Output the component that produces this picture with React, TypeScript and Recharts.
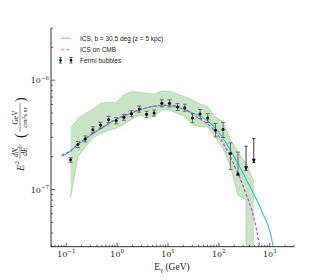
import React from 'react';
import { ComposedChart, XAxis, YAxis, Line, Area, Scatter, ErrorBar } from 'recharts';

// ---------- data ----------
const fermiE = [0.121, 0.169, 0.235, 0.333, 0.472, 0.678, 0.955, 1.355, 1.92, 2.71, 3.78, 5.33, 7.55, 10.7, 15.4, 21.4, 30.3, 42.7, 60.5, 85.8, 121, 169, 238];
const fermiFlux = [1.876e-7, 2.58e-7, 2.9e-7, 3.52e-7, 3.88e-7, 4.38e-7, 4.25e-7, 4.57e-7, 4.93e-7, 5.44e-7, 4.87e-7, 5.0e-7, 6.14e-7, 6.14e-7, 5.67e-7, 5.6e-7, 4.5e-7, 4.9e-7, 4.5e-7, 3.49e-7, 3.53e-7, 2.13e-7, 1.39e-7];
const fermiHigh = [1.957e-7, 2.75e-7, 3.09e-7, 3.75e-7, 4.13e-7, 4.67e-7, 4.53e-7, 4.87e-7, 5.25e-7, 5.8e-7, 5.19e-7, 5.33e-7, 6.61e-7, 6.61e-7, 6.11e-7, 6.03e-7, 4.95e-7, 5.39e-7, 4.95e-7, 4.02e-7, 4.11e-7, 2.67e-7, 2.2e-7];
const fermiLow = [1.772e-7, 2.42e-7, 2.72e-7, 3.3e-7, 3.64e-7, 4.11e-7, 3.99e-7, 4.29e-7, 4.63e-7, 5.1e-7, 4.57e-7, 4.69e-7, 5.7e-7, 5.7e-7, 5.27e-7, 5.2e-7, 4.09e-7, 4.45e-7, 4.09e-7, 3.03e-7, 2.99e-7, 1.52e-7, 1.345e-7];

const ulE = [342, 485];
const ulFlux = [2.49e-7, 2.93e-7];
const ulTip = [1.5e-7, 1.76e-7];

const bandE = [0.121, 0.169, 0.239, 0.338, 0.472, 0.678, 0.943, 1.354, 1.92, 2.71, 3.78, 5.33, 7.55, 10.85, 15.3, 21.4, 30.3, 42.7, 60.5, 85.8, 121, 171, 238, 342, 342, 491];
const bandHigh = [3.62e-7, 4.47e-7, 4.97e-7, 5.45e-7, 6.14e-7, 6.27e-7, 6.22e-7, 7.32e-7, 7.86e-7, 7.76e-7, 7.6e-7, 7.43e-7, 7.97e-7, 7.92e-7, 7.48e-7, 7.06e-7, 6.59e-7, 6.05e-7, 5.72e-7, 4.62e-7, 4.16e-7, 2.82e-7, 2.19e-7, 1.73e-7, 1.73e-7, 1.185e-7];
const bandLow = [8.44e-8, 1.98e-7, 2.45e-7, 2.99e-7, 3.23e-7, 3.49e-7, 3.62e-7, 3.96e-7, 4.38e-7, 4.76e-7, 4.69e-7, 4.62e-7, 5.33e-7, 5.33e-7, 4.97e-7, 4.69e-7, 3.94e-7, 3.74e-7, 3.74e-7, 2.99e-7, 2.37e-7, 1.6e-7, 8.81e-8, 8.09e-8, 3e-8, 3e-8];

const icsE = [0.0809, 0.1215, 0.169, 0.235, 0.333, 0.472, 0.678, 0.955, 1.354, 1.92, 2.71, 3.78, 5.33, 7.55, 10.7, 15.4, 21.4, 30.3, 42.7, 60.5, 85.8, 121, 169, 238, 342, 485, 738, 1000, 1161, 1253];
const icsFlux = [2.01e-7, 2.24e-7, 2.58e-7, 2.88e-7, 3.25e-7, 3.6e-7, 4.0e-7, 4.38e-7, 4.69e-7, 5.0e-7, 5.33e-7, 5.56e-7, 5.74e-7, 5.84e-7, 5.86e-7, 5.6e-7, 5.39e-7, 5.03e-7, 4.69e-7, 4.22e-7, 3.62e-7, 2.94e-7, 2.28e-7, 1.72e-7, 1.25e-7, 9.13e-8, 5.98e-8, 4.2e-8, 3.05e-8, 2.5e-8];

const cmbE = [0.0809, 0.1215, 0.169, 0.235, 0.333, 0.472, 0.678, 0.955, 1.354, 1.92, 2.71, 3.78, 5.33, 7.55, 10.7, 15.4, 21.4, 31.1, 42.7, 60.5, 85.8, 121, 169, 238, 342, 485, 636, 697];
const cmbFlux = [2.06e-7, 2.27e-7, 2.6e-7, 2.9e-7, 3.27e-7, 3.62e-7, 4.02e-7, 4.4e-7, 4.72e-7, 5.03e-7, 5.37e-7, 5.6e-7, 5.8e-7, 5.9e-7, 5.93e-7, 5.74e-7, 5.45e-7, 4.8e-7, 4.41e-7, 3.96e-7, 3.37e-7, 2.65e-7, 1.98e-7, 1.39e-7, 9.13e-8, 5.56e-8, 3.05e-8, 2.47e-8];

const xMajor = [0.1, 1, 10, 100, 1000];
const xMajorExp = ['\u22121', '0', '1', '2', '3'];
const xMinor = [0.05, 0.06, 0.07, 0.08, 0.09, 0.2, 0.3, 0.4, 0.5, 0.6, 0.7, 0.8, 0.9, 2, 3, 4, 5, 6, 7, 8, 9, 20, 30, 40, 50, 60, 70, 80, 90, 200, 300, 400, 500, 600, 700, 800, 900, 2000, 3000];
const yMajor = [1e-7, 1e-6];
const yMajorExp = ['\u22127', '\u22126'];
const yMinor = [3e-8, 4e-8, 5e-8, 6e-8, 7e-8, 8e-8, 9e-8, 2e-7, 3e-7, 4e-7, 5e-7, 6e-7, 7e-7, 8e-7, 9e-7, 2e-6, 3e-6];

const legendLabels = ['ICS, b = 30.5 deg (z = 5 kpc)', 'ICS on CMB', 'Fermi bubbles'];

// ---------- derived tables ----------
const fermiData = fermiE.map((E, i) => ({ E, y: fermiFlux[i], err: [fermiFlux[i] - fermiLow[i], fermiHigh[i] - fermiFlux[i]] }));
const ulData = ulE.map((E, i) => ({ E, y: ulTip[i], err: [0, ulFlux[i] - ulTip[i]] }));
const bandData = bandE.map((E, i) => ({ E, range: [bandLow[i], bandHigh[i]] }));
const icsData = icsE.map((E, i) => ({ E, v: icsFlux[i] }));
const cmbData = cmbE.map((E, i) => ({ E, v: cmbFlux[i] }));

const xTicks = [...xMajor, ...xMinor].sort((a, b) => a - b);
const yTicks = [...yMajor, ...yMinor].sort((a, b) => a - b);

const CYAN = '#2cc6ca';
const MAGENTA = '#c93ac9';
const INK = '#222';
const SERIF = 'DejaVu Serif';

const isMajorX = (v: number) => xMajor.findIndex((m) => Math.abs(m - v) / m < 1e-6);
const isMajorY = (v: number) => yMajor.findIndex((m) => Math.abs(m - v) / m < 1e-6);

const BottomTick = (p: any) => {
  const i = isMajorX(p.payload.value);
  return (
    <g>
      <line x1={p.x} x2={p.x} y1={p.y} y2={p.y - (i >= 0 ? 4 : 2)} stroke={INK} strokeWidth={0.7} />
      {i >= 0 && (
        <text x={p.x} y={p.y + 10} textAnchor="middle" fontFamily={SERIF} fontSize={8} fill={INK}>
          10<tspan dy={-3.5} fontSize={5.5}>{xMajorExp[i]}</tspan>
        </text>
      )}
    </g>
  );
};
const TopTick = (p: any) => {
  const i = isMajorX(p.payload.value);
  return <line x1={p.x} x2={p.x} y1={p.y} y2={p.y + (i >= 0 ? 4 : 2)} stroke={INK} strokeWidth={0.7} />;
};
const LeftTick = (p: any) => {
  const i = isMajorY(p.payload.value);
  return (
    <g>
      <line x1={p.x} x2={p.x + (i >= 0 ? 4 : 2)} y1={p.y} y2={p.y} stroke={INK} strokeWidth={0.7} />
      {i >= 0 && (
        <text x={p.x - 2} y={p.y + 3} textAnchor="end" fontFamily={SERIF} fontSize={8} fill={INK}>
          10<tspan dy={-3.5} fontSize={5.5}>{yMajorExp[i]}</tspan>
        </text>
      )}
    </g>
  );
};
const RightTick = (p: any) => {
  const i = isMajorY(p.payload.value);
  return <line x1={p.x} x2={p.x - (i >= 0 ? 4 : 2)} y1={p.y} y2={p.y} stroke={INK} strokeWidth={0.7} />;
};

const Dot = (p: any) => <circle cx={p.cx} cy={p.cy} r={1.5} fill="#000" />;
const Arrow = (p: any) => (
  <path d={`M${p.cx - 2},${p.cy - 4} L${p.cx + 2},${p.cy - 4} L${p.cx},${p.cy} Z`} fill="#000" />
);

const Overlay = () => (
  <svg width={320} height={280} style={{ position: 'absolute', left: 0, top: 0, pointerEvents: 'none' }}>
    {/* legend */}
    <line x1={61} x2={71} y1={38.3} y2={38.3} stroke={CYAN} strokeWidth={1.5} opacity={0.55} />
    <line x1={61} x2={71} y1={49.5} y2={49.5} stroke={MAGENTA} strokeWidth={1.5} strokeDasharray="3 2" opacity={0.5} />
    {[60.5, 71].map((x) => (
      <g key={x}>
        <line x1={x} x2={x} y1={57.5} y2={63} stroke="#333" strokeWidth={0.8} />
        <line x1={x - 1.5} x2={x + 1.5} y1={57.5} y2={57.5} stroke="#333" strokeWidth={0.8} />
        <line x1={x - 1.5} x2={x + 1.5} y1={63} y2={63} stroke="#333" strokeWidth={0.8} />
        <circle cx={x} cy={60.2} r={1.3} fill="#000" />
      </g>
    ))}
    {legendLabels.map((t, i) => (
      <text key={t} x={80} y={40.6 + i * 11.2} fontFamily="Liberation Sans" fontSize={6.5} fill={INK}>
        {t}
      </text>
    ))}
    {/* x label */}
    <text x={172} y={269.5} textAnchor="middle" fontFamily="Liberation Serif" fontSize={9.5} fill={INK}>
      E<tspan dy={2} fontSize={6.5}>γ</tspan>
      <tspan dy={-2}> (GeV)</tspan>
    </text>
    {/* y label */}
    <g transform="translate(20,171) rotate(-90)" fontFamily="Liberation Serif" fill={INK}>
      <text x={0} y={4} fontSize={10.5} fontStyle="italic">E</text>
      <text x={6.8} y={-0.8} fontSize={6.5}>2</text>
      <text x={19.5} y={-2} fontSize={7.5} textAnchor="middle" fontStyle="italic">
        dN<tspan fontSize={5} dy={1.3}>γ</tspan>
      </text>
      <line x1={12} x2={27} y1={0} y2={0} stroke={INK} strokeWidth={0.5} />
      <text x={19.5} y={7} fontSize={7.5} textAnchor="middle" fontStyle="italic">dE</text>
      <text x={33} y={4.5} fontSize={14}>(</text>
      <text x={53.5} y={-2} fontSize={7.5} textAnchor="middle">GeV</text>
      <line x1={39} x2={68} y1={0} y2={0} stroke={INK} strokeWidth={0.5} />
      <text x={53.5} y={7} fontSize={7} textAnchor="middle">
        cm<tspan dy={-2.2} fontSize={5}>2</tspan>
        <tspan dy={2.2}>s sr</tspan>
      </text>
      <text x={69} y={4.5} fontSize={14}>)</text>
    </g>
  </svg>
);

export default function App() {
  return (
    <div style={{ position: 'absolute', left: 0, top: 0, width: 320, height: 280, background: '#fff' }}>
      <ComposedChart width={320} height={280} margin={{ top: 28, right: 26, left: 0, bottom: 0 }}>
        <XAxis
          dataKey="E"
          type="number"
          scale="log"
          domain={[0.05, 3000]}
          allowDataOverflow
          ticks={xTicks}
          interval={0}
          tick={BottomTick}
          tickLine={false}
          tickSize={0}
          tickMargin={0}
          height={33.3}
          axisLine={{ stroke: '#333', strokeWidth: 1 }}
        />
        <XAxis
          xAxisId="top"
          orientation="top"
          type="number"
          scale="log"
          domain={[0.05, 3000]}
          allowDataOverflow
          ticks={xTicks}
          interval={0}
          tick={TopTick}
          tickLine={false}
          tickSize={0}
          tickMargin={0}
          height={0}
          axisLine={{ stroke: '#333', strokeWidth: 1 }}
        />
        <YAxis
          type="number"
          scale="log"
          domain={[3e-8, 3e-6]}
          allowDataOverflow
          ticks={yTicks}
          interval={0}
          tick={LeftTick}
          tickLine={false}
          tickSize={0}
          tickMargin={0}
          width={51}
          axisLine={{ stroke: '#333', strokeWidth: 1 }}
        />
        <YAxis
          yAxisId="right"
          orientation="right"
          type="number"
          scale="log"
          domain={[3e-8, 3e-6]}
          allowDataOverflow
          ticks={yTicks}
          interval={0}
          tick={RightTick}
          tickLine={false}
          tickSize={0}
          tickMargin={0}
          width={0}
          axisLine={{ stroke: '#333', strokeWidth: 1 }}
        />
        <Area
          data={bandData}
          dataKey="range"
          type="linear"
          fill="#c9e5c5"
          fillOpacity={1}
          stroke="#98cc92"
          strokeWidth={0.6}
          isAnimationActive={false}
          dot={false}
          activeDot={false}
        />
        <Line data={icsData} dataKey="v" type="monotone" stroke={CYAN} strokeWidth={1.1} dot={false} activeDot={false} isAnimationActive={false} />
        <Line data={cmbData} dataKey="v" type="monotone" stroke={MAGENTA} strokeWidth={1.1} strokeDasharray="3 2" dot={false} activeDot={false} isAnimationActive={false} />
        <Scatter data={fermiData} dataKey="y" shape={Dot} isAnimationActive={false}>
          <ErrorBar dataKey="err" direction="y" width={2} stroke="#555" strokeWidth={0.8} isAnimationActive={false} />
        </Scatter>
        <Scatter data={ulData} dataKey="y" shape={Arrow} isAnimationActive={false}>
          <ErrorBar dataKey="err" direction="y" width={1.5} stroke="#222" strokeWidth={0.9} isAnimationActive={false} />
        </Scatter>
      </ComposedChart>
      <Overlay />
    </div>
  );
}
